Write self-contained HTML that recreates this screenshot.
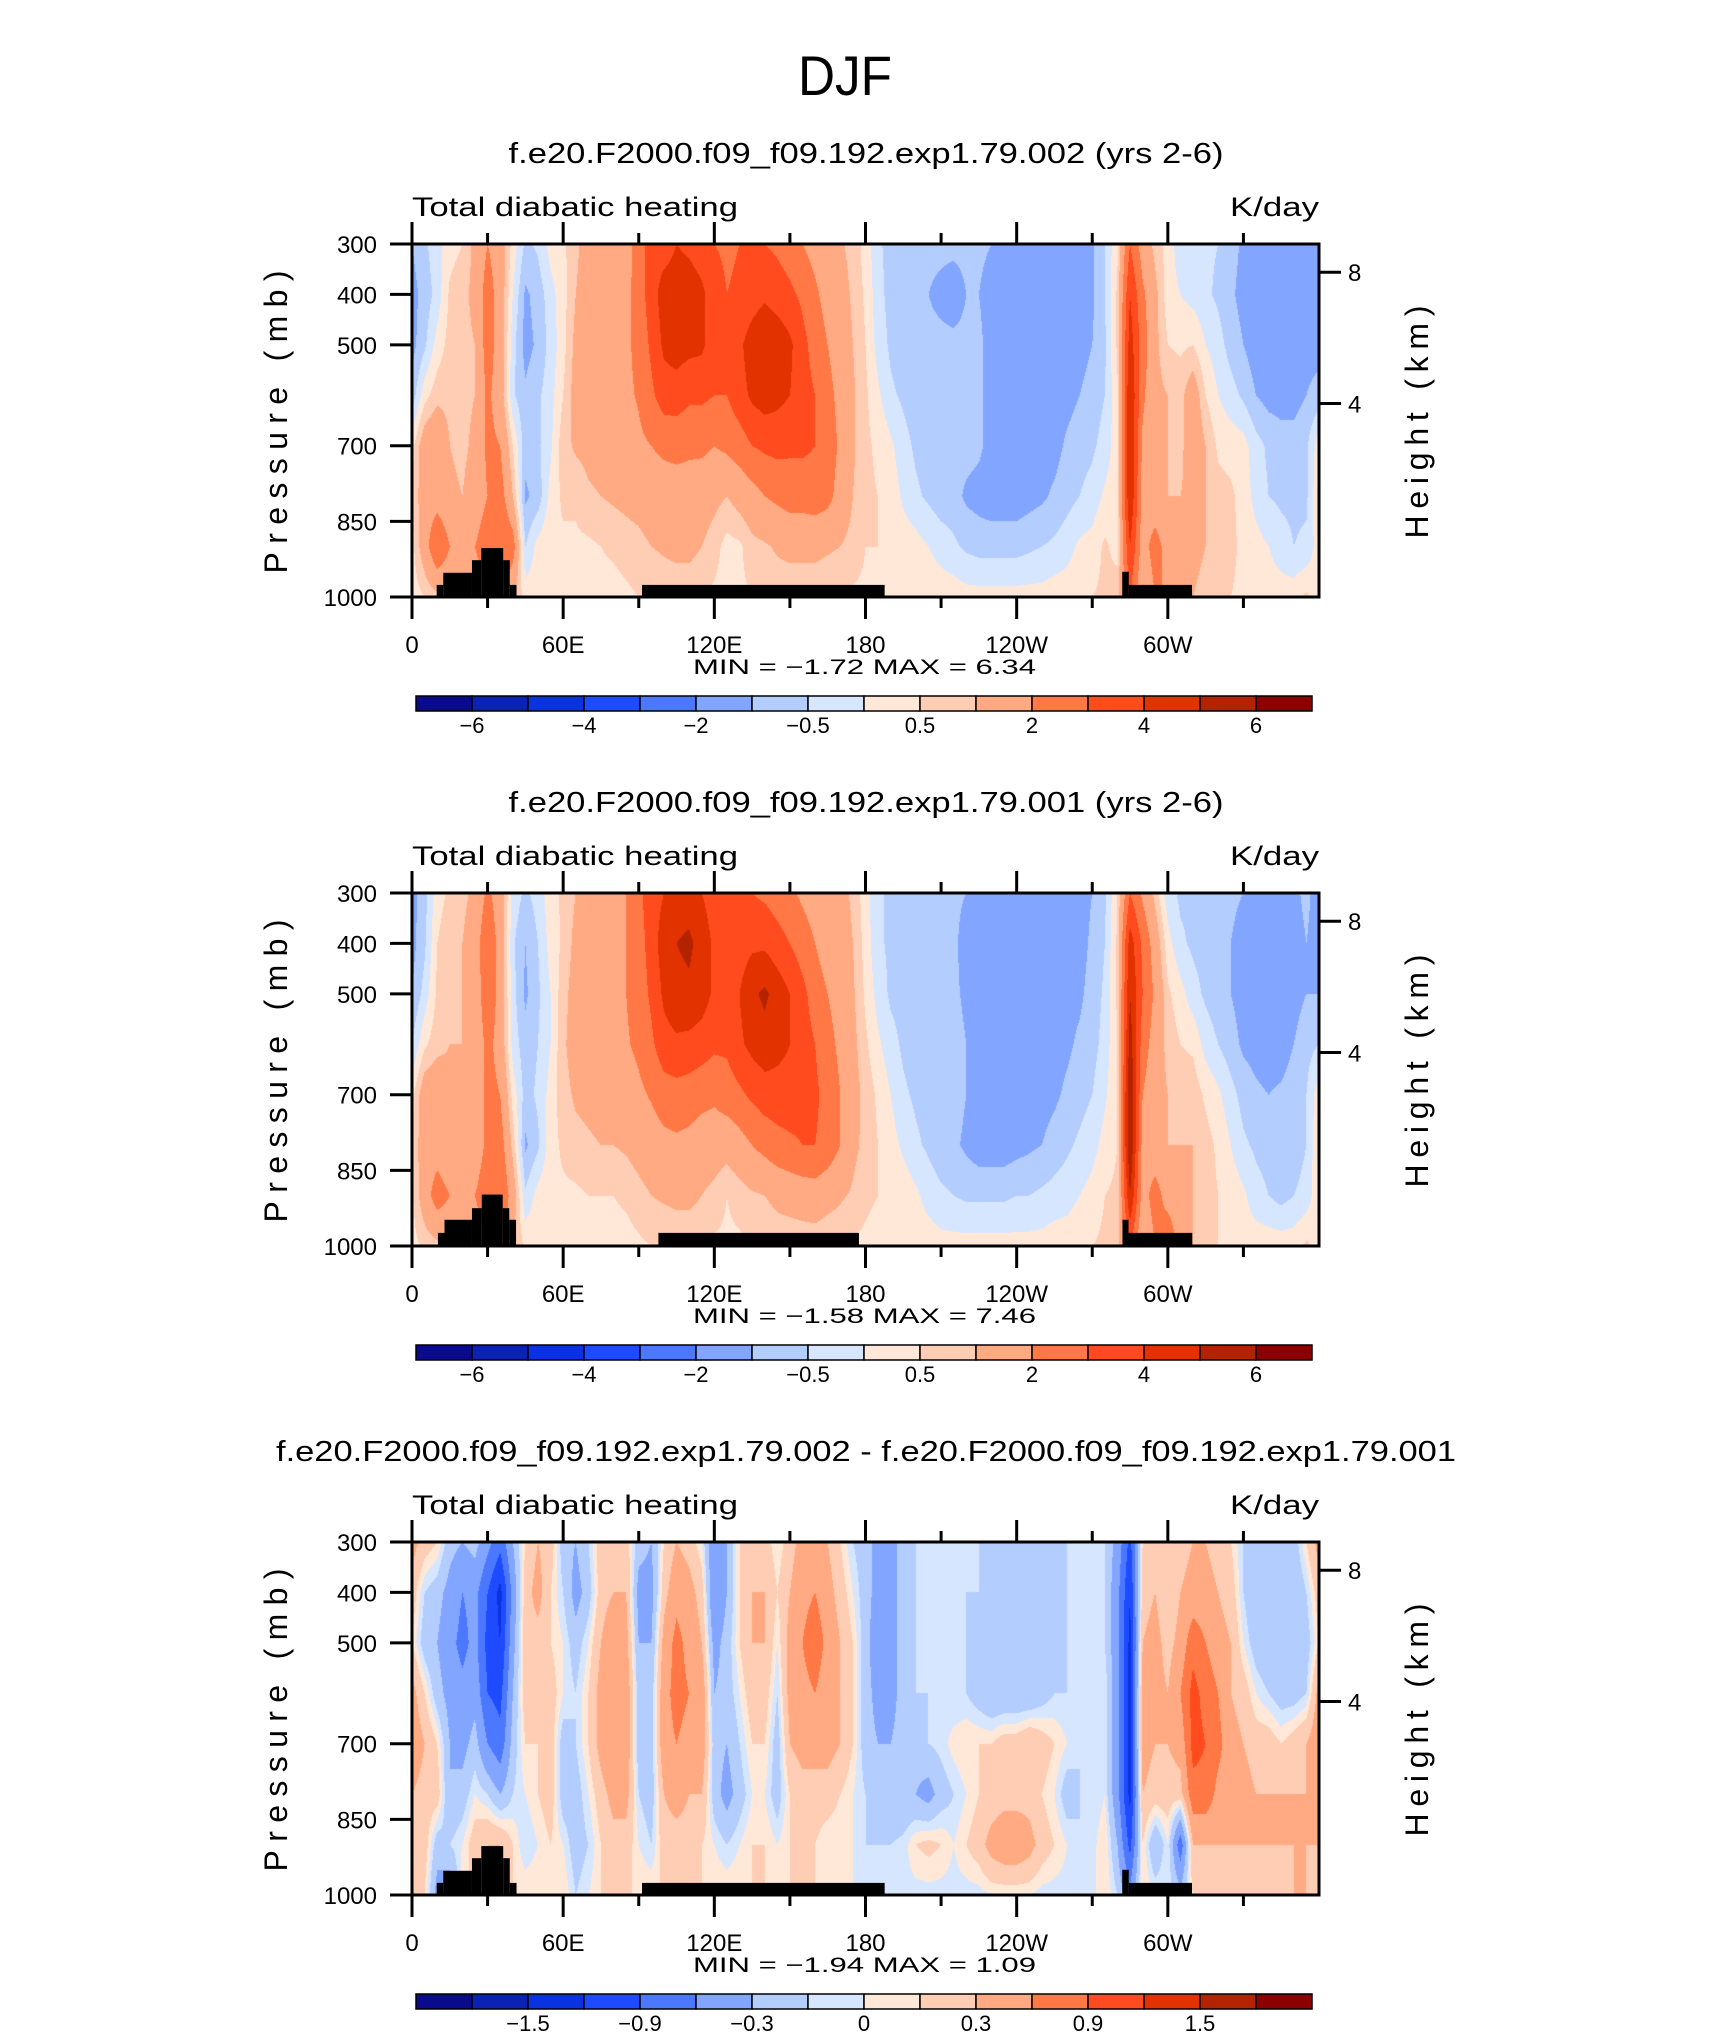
<!DOCTYPE html>
<html><head><meta charset="utf-8"><title>DJF Total diabatic heating</title>
<style>
html,body{margin:0;padding:0;background:#fff;}
#root{position:relative;width:1710px;height:2038px;overflow:hidden;background:#fff;}
canvas{position:absolute;}
svg{position:absolute;left:0;top:0;}
text{font-family:"Liberation Sans",sans-serif;fill:#000;}
</style></head>
<body>
<div id="root">
<canvas id="c0" width="907" height="353"></canvas>
<canvas id="c1" width="907" height="353"></canvas>
<canvas id="c2" width="907" height="353"></canvas>
<svg id="ov" width="1710" height="2038" xmlns="http://www.w3.org/2000/svg">
<text x="845" y="95" font-size="56" text-anchor="middle" textLength="94" lengthAdjust="spacingAndGlyphs">DJF</text>
</svg>
</div>
<script>
const lons=[0,5,10,15,20,25,30,35,40,45,50,55,60,65,70,75,80,85,90,95,100,105,110,115,120,125,130,135,140,145,150,155,160,165,170,175,180,185,190,195,200,205,210,215,220,225,230,235,240,245,250,255,260,265,270,275,280,285,290,295,300,305,310,315,320,325,330,335,340,345,350,355];
const pressures=[300,400,500,600,700,800,900,1000];
// each entry: values at pressures 300..1000 for one longitude
const heat002=[
[-1,-1.2,-1.2,-0.8,0.3,0.5,0.3,0.2],[-0.6,-0.8,-0.6,0.3,1.5,1.5,1.5,0.5],[-0.2,-0.3,0.2,0.8,1.8,1.5,3,0.8],[0.3,0.6,0.7,0.8,1,1.2,2,1],
[0.5,0.8,0.8,0.8,0.8,1,1.5,1],[1.2,1.2,1,1,1.2,1.5,2,1.5],[2,2.5,2.5,2.2,2.2,2,2.5,2],[1.5,1.5,1.5,1.5,2,2.5,3,2.5],
[0.3,0,-0.3,-0.4,0.5,1,2.5,1],[-0.6,-1.1,-1.2,-0.9,-0.8,-1.1,-0.5,0.3],[-0.4,-0.8,-0.9,-0.6,-0.6,-0.8,0.2,0.3],[0.2,-0.2,-0.3,-0.2,-0.1,0.2,0.4,0.3],
[0.4,0.3,0.3,0.5,0.8,0.6,0.4,0.3],[0.8,1,1.2,1.3,1.1,0.6,0.4,0.3],[1.5,1.5,1.5,1.4,1.2,0.9,0.4,0.3],[1.5,1.6,1.6,1.5,1.3,1,0.5,0.3],
[1.5,1.6,1.7,1.6,1.4,1.1,0.6,0.3],[1.5,1.7,1.8,1.8,1.5,1.2,0.7,0.4],[2.5,2.5,2.3,2.1,1.8,1.3,0.8,0.5],[3.5,3.5,3.2,2.8,2,1.5,1,0.5],
[3.5,4.5,4.2,3.5,2.2,1.5,1.1,0.6],[4,4.5,4.5,3.5,2.3,1.5,1.2,0.6],[3.8,4.5,4.3,3.2,2.2,1.5,1.2,0.6],[3.5,4.2,4.2,3.2,2.2,1.4,1,0.5],
[3,3.5,3.5,3,2,1.2,0.7,0.4],[2.8,3,3.2,3,2.2,1,0.3,0.3],[3,3.2,3.8,3.6,2.5,1.3,0.4,0.4],[3,3.5,4.5,4.2,3,1.6,0.8,0.5],
[3,3.8,5,4.5,3.2,2,0.9,0.5],[2.8,3.5,4.7,4.3,3.3,2.2,1.1,0.6],[2.5,3.2,4.2,4,3.2,2.4,1.2,0.6],[2,2.8,3.3,3.4,3.2,2.4,1.2,0.6],
[1.6,2.2,2.6,3,3,2.5,1.2,0.6],[1.2,1.6,2,2.3,2.6,2.3,1.1,0.5],[1.1,1.3,1.5,1.7,1.8,1.6,1,0.5],[0.8,0.9,1,1.1,1.1,1,0.8,0.4],
[0.3,0.4,0.5,0.6,0.6,0.6,0.5,0.4],[-0.4,-0.3,-0.2,0.1,0.4,0.5,0.5,0.3],[-0.7,-0.7,-0.6,-0.4,0.1,0.3,0.4,0.3],[-0.8,-0.8,-0.8,-0.6,-0.3,-0.1,0.3,0.3],
[-0.8,-0.9,-0.9,-0.8,-0.6,-0.4,0.2,0.3],[-0.9,-1,-0.9,-0.8,-0.8,-0.6,0,0.3],[-0.9,-1.1,-0.9,-0.8,-0.8,-0.8,-0.2,0.3],[-0.9,-1.2,-0.9,-0.8,-0.8,-0.8,-0.4,0.3],
[-0.9,-1,-0.9,-0.8,-0.8,-1.1,-0.6,0.2],[-0.9,-1,-0.9,-0.9,-0.9,-1.2,-0.7,0.2],[-1,-1.2,-1.2,-1.2,-1.2,-1.3,-0.7,0.2],[-1.1,-1.3,-1.3,-1.3,-1.3,-1.3,-0.7,0.2],
[-1.2,-1.3,-1.3,-1.3,-1.3,-1.3,-0.7,0.2],[-1.2,-1.3,-1.3,-1.3,-1.3,-1.2,-0.6,0.2],[-1.2,-1.3,-1.3,-1.3,-1.3,-1.1,-0.5,0.2],[-1.2,-1.3,-1.3,-1.3,-1.2,-0.9,-0.4,0.3],
[-1.2,-1.3,-1.3,-1.2,-0.9,-0.7,-0.2,0.3],[-1.2,-1.2,-1.2,-1,-0.7,-0.5,0.1,0.4],[-1.1,-1.1,-1,-0.8,-0.6,-0.3,0.2,0.5],[-0.5,-0.5,-0.6,-0.5,-0.3,0.1,0.6,0.6],
[0.4,0.6,0.6,0.4,0.3,0.3,0.3,0.8],[3,4,4.5,5,5,5,4,3],[1.5,2.2,2.5,2.2,1.8,1.5,1.5,1],[0.8,1.2,1.2,1.2,1.2,1.2,2.5,2],
[0.3,0.2,0.5,1,1,1,1.5,2],[-0.3,0,0.4,0.8,0.8,1,1.5,1.5],[-0.4,-0.2,0.5,1.5,1.6,1.2,1.2,1],[-0.4,-0.4,0,0.5,1,1,1,0.8],
[-0.5,-0.6,-0.3,0,0.4,0.7,0.8,0.5],[-0.8,-0.9,-0.7,-0.3,0.3,0.6,0.6,0.5],[-1.1,-1.2,-1,-0.6,0.2,0.3,0.4,0.4],[-1.2,-1.3,-1.3,-1,-0.3,-0.2,0.2,0.3],
[-1.2,-1.3,-1.3,-1.2,-0.6,-0.5,0,0.3],[-1.2,-1.3,-1.3,-1.2,-0.8,-0.6,-0.3,0.3],[-1.2,-1.3,-1.3,-1.2,-0.8,-0.6,-0.5,0.3],[-1.1,-1.3,-1.2,-1,-0.6,-0.6,-0.4,0.6]];
const heat001=[
[-1.2,-1.2,-1,-0.5,0.3,0.5,0.4,0.3],[-0.7,-0.6,-0.3,0.4,1.5,1.5,1.5,0.6],[0.3,0.5,0.6,0.8,1.6,1.5,2.5,0.8],[0.6,0.8,0.9,1,1.2,1.2,2,1],
[0.8,1,1,1,1,1.2,1.8,1.2],[1.2,1.5,1.3,1.2,1.3,1.5,2,1.5],[2.2,2.8,2.8,2.3,2.3,2.2,2.5,2],[1.5,1.6,1.6,1.6,2,2.5,3,2.5],
[-0.2,-0.4,-0.3,-0.2,0.3,0.8,1.5,1],[-0.6,-1,-1.1,-0.8,-0.7,-1.1,-0.4,0.4],[-0.3,-0.5,-0.6,-0.5,-0.4,-0.6,0.2,0.4],[0.3,0.2,0,0,0.2,0.3,0.4,0.4],
[0.6,0.6,0.8,0.9,0.8,0.6,0.4,0.3],[1,1.2,1.3,1.3,1.1,0.8,0.4,0.3],[1.3,1.5,1.6,1.5,1.2,0.9,0.5,0.3],[1.5,1.7,1.8,1.6,1.3,1,0.5,0.3],
[1.6,1.8,1.9,1.7,1.4,1,0.5,0.3],[2,2,2,1.9,1.5,1.1,0.6,0.3],[2.8,2.5,2.4,2.2,1.8,1.3,0.8,0.4],[3.5,3.5,3.2,2.8,2.1,1.5,1,0.5],
[4,4.5,4.2,3.6,2.5,1.7,1.1,0.5],[4.5,5,4.7,3.8,2.6,1.8,1.2,0.5],[4.5,5.2,4.8,3.7,2.5,1.7,1.2,0.5],[4,4.6,4.5,3.5,2.3,1.5,1,0.5],
[3.5,3.8,3.8,3.2,2.2,1.4,0.8,0.4],[3,3.2,3.5,3.2,2.5,1.3,0.5,0.4],[3,3.5,4,3.8,2.8,1.6,0.7,0.4],[3,3.8,4.8,4.3,3.2,2,0.9,0.5],
[2.8,3.8,5.2,4.6,3.5,2.3,1,0.5],[2.5,3.4,4.6,4.3,3.6,2.6,1.2,0.6],[2.2,3,4,4,3.6,2.8,1.3,0.6],[1.8,2.5,3.3,3.5,3.4,3,1.4,0.6],
[1.5,2,2.5,3,3.2,3,1.5,0.6],[1.2,1.5,2,2.3,2.6,2.6,1.3,0.5],[1.2,1.4,1.6,1.8,2,2,1.1,0.5],[0.9,1,1.1,1.2,1.3,1.2,0.9,0.4],
[0.2,0.3,0.4,0.6,0.8,0.8,0.6,0.4],[-0.4,-0.4,-0.2,0.1,0.4,0.5,0.5,0.3],[-0.6,-0.6,-0.6,-0.3,0,0.2,0.4,0.3],[-0.7,-0.7,-0.7,-0.6,-0.4,-0.1,0.3,0.3],
[-0.7,-0.8,-0.8,-0.8,-0.6,-0.4,0.1,0.3],[-0.8,-0.8,-0.8,-0.8,-0.7,-0.6,-0.2,0.3],[-0.8,-0.9,-0.9,-0.8,-0.8,-0.8,-0.4,0.2],[-0.9,-0.9,-0.9,-0.8,-0.8,-0.9,-0.5,0.2],
[-1,-1.2,-1.1,-1,-1,-1.1,-0.6,0.2],[-1.1,-1.3,-1.3,-1.3,-1.3,-1.3,-0.6,0.2],[-1.2,-1.3,-1.3,-1.3,-1.3,-1.3,-0.6,0.2],[-1.3,-1.4,-1.4,-1.4,-1.4,-1.3,-0.6,0.2],
[-1.3,-1.4,-1.4,-1.4,-1.4,-1.2,-0.5,0.2],[-1.3,-1.4,-1.4,-1.4,-1.3,-1.1,-0.5,0.2],[-1.3,-1.4,-1.4,-1.3,-1.2,-1,-0.4,0.2],[-1.3,-1.4,-1.3,-1.2,-1.1,-0.8,-0.3,0.3],
[-1.3,-1.3,-1.2,-1.1,-0.9,-0.6,-0.2,0.3],[-1.2,-1.2,-1.1,-0.9,-0.7,-0.4,0,0.4],[-1,-0.9,-0.8,-0.7,-0.5,-0.2,0.2,0.5],[-0.6,-0.5,-0.4,-0.3,-0.1,0.2,0.5,0.6],
[0.5,0.6,0.6,0.5,0.5,0.5,0.6,0.8],[3,4.5,5,5.5,6,6,5,3],[1.8,2.8,3,2.5,2,1.6,1.5,1],[0.8,1.5,1.8,1.5,1.3,1.2,2.5,2],
[-0.3,0.2,0.6,0.8,1,1,1.5,3],[-0.6,-0.4,0.2,0.5,0.8,1,1.2,1.5],[-0.6,-0.6,-0.3,0.4,0.8,1,1,1],[-0.7,-0.7,-0.6,-0.2,0.4,0.7,0.7,0.8],
[-0.8,-0.9,-0.8,-0.5,0.1,0.4,0.5,0.5],[-0.9,-1,-1,-0.8,-0.3,0,0.3,0.4],[-1,-1.2,-1.2,-1.1,-0.7,-0.4,0.1,0.3],[-1.1,-1.3,-1.3,-1.2,-0.9,-0.6,-0.3,0.3],
[-1.2,-1.3,-1.3,-1.3,-1,-0.7,-0.5,0.3],[-1.2,-1.3,-1.3,-1.3,-0.9,-0.8,-0.7,0.3],[-1.1,-1.2,-1.2,-1,-0.7,-0.8,-0.5,0.3],[-0.9,-1,-1,-0.7,-0.5,-0.5,-0.3,0.6]];
const heatDiff=[
[0.4,0.2,0.1,0.4,0.5,0.3,0.3,0.2],[0.2,-0.1,-0.2,0.1,0.3,0.2,0.2,0.1],[0.1,-0.2,-0.3,-0.2,0.1,0.2,-0.2,-0.4],[-0.2,-0.4,-0.5,-0.4,-0.3,-0.3,-0.1,-0.5],
[-0.3,-0.6,-0.7,-0.5,-0.4,-0.2,0,0.1],[-0.2,-0.5,-0.5,-0.4,-0.2,0,0.2,0.1],[-0.5,-0.9,-1,-0.9,-0.6,-0.1,0.3,0.3],[-0.8,-1.3,-1.2,-1,-0.8,-0.3,0.3,0.3],
[-0.3,-0.5,-0.4,-0.3,-0.2,-0.1,0.1,0.1],[0.1,0.2,0.2,0.2,0.1,0,-0.1,0.1],[0.3,0.4,0.2,0.1,0.1,0.1,0,0.1],[0.2,0.1,0.1,0.2,0.2,0.2,0.1,0.1],
[-0.2,-0.1,0,0,-0.2,-0.2,0,0.1],[-0.3,-0.4,-0.2,-0.1,-0.1,-0.2,-0.2,-0.1],[-0.1,-0.2,0,0.1,0.1,0,-0.1,0],[0.2,0.2,0.3,0.4,0.4,0.2,0.1,0.1],
[0.1,0.3,0.5,0.6,0.6,0.4,0.2,0.1],[0.2,0.3,0.4,0.5,0.5,0.4,0.2,0.1],[-0.2,-0.4,-0.3,-0.2,-0.2,-0.1,0,0.1],[-0.3,-0.4,-0.3,-0.2,-0.2,-0.2,-0.1,0.1],
[0.1,0.2,0.4,0.5,0.5,0.3,0.2,0.1],[0.3,0.5,0.7,0.7,0.6,0.4,0.2,0.1],[0.2,0.4,0.5,0.6,0.5,0.3,0.2,0.1],[0,0.2,0.3,0.5,0.5,0.3,0.1,0.1],
[-0.5,-0.6,-0.4,-0.3,-0.2,-0.2,0,0.1],[-0.3,-0.3,-0.2,-0.2,-0.3,-0.4,-0.1,0.1],[0.1,0.1,0.1,0,-0.1,-0.2,0,0.1],[0.2,0.3,0.3,0.2,0.1,0,0.1,0.1],
[0.2,0.3,0.3,0.2,0.1,0,0.1,0.1],[0,0.1,0,-0.1,-0.2,-0.2,0,0.1],[0.2,0.3,0.4,0.4,0.3,0.1,0.1,0.1],[0.4,0.5,0.6,0.5,0.4,0.2,0.1,0.1],
[0.4,0.6,0.8,0.6,0.4,0.2,0.1,0.1],[0.3,0.4,0.5,0.4,0.4,0.2,0,0.1],[0.1,0.2,0.3,0.3,0.3,0.1,0,0],[-0.1,0,0.1,0.1,0.1,0,0,0],
[-0.2,-0.2,-0.2,-0.2,-0.2,-0.1,-0.1,0],[-0.4,-0.4,-0.5,-0.4,-0.3,-0.3,-0.1,-0.05],[-0.4,-0.4,-0.4,-0.4,-0.3,-0.3,-0.1,-0.05],[-0.2,-0.2,-0.2,-0.2,-0.2,-0.3,-0.05,-0.05],
[-0.1,-0.1,-0.1,-0.1,-0.2,-0.3,0.1,-0.05],[-0.1,-0.1,-0.1,-0.1,-0.1,-0.4,0.15,-0.05],[-0.1,-0.1,-0.1,-0.1,-0.05,-0.2,0.1,-0.05],[-0.1,-0.1,-0.1,-0.1,0.05,-0.1,0,-0.05],
[-0.1,-0.1,-0.1,-0.1,0.1,0,0.1,-0.05],[-0.1,-0.1,-0.2,-0.2,0.1,0.1,0.2,-0.05],[-0.1,-0.2,-0.3,-0.3,0.1,0.15,0.4,0],[-0.1,-0.2,-0.3,-0.3,0.2,0.2,0.5,0],
[-0.1,-0.3,-0.3,-0.3,0.2,0.2,0.5,0],[-0.1,-0.3,-0.3,-0.3,0.3,0.2,0.4,0],[-0.1,-0.3,-0.3,-0.2,0.2,0.1,0.2,-0.05],[-0.1,-0.2,-0.2,-0.1,0.1,0,0.1,-0.05],
[-0.1,-0.1,-0.1,-0.1,0,-0.2,0,-0.05],[-0.1,-0.1,-0.1,-0.1,-0.1,-0.1,-0.1,-0.05],[-0.1,-0.1,-0.1,-0.1,-0.1,-0.1,-0.05,-0.05],[-0.1,-0.1,-0.1,0,0,0,0.1,0.1],
[-0.4,-0.5,-0.5,-0.5,-0.5,-0.5,-0.3,-0.1],[-1,-1.2,-1.3,-1.3,-1.3,-1.3,-1,-0.5],[0.1,0.2,0.3,0.4,0.4,0.3,0.1,0.1],[0.2,0.3,0.4,0.4,0.3,0.2,-0.3,0],
[0.1,0.1,0.2,0.3,0.3,0.2,0,0],[0.2,0.3,0.4,0.6,0.4,0.2,-0.8,-0.2],[0.3,0.4,0.8,1,1,0.8,0.3,0.1],[0.3,0.4,0.6,0.8,0.9,0.8,0.3,0.1],
[0.2,0.3,0.4,0.6,0.7,0.5,0.3,0.1],[0.1,0.2,0.3,0.3,0.4,0.4,0.3,0.1],[-0.1,-0.1,0,0.2,0.3,0.4,0.3,0.1],[-0.2,-0.3,-0.2,0,0.2,0.3,0.3,0.1],
[-0.2,-0.3,-0.3,-0.1,0.2,0.3,0.3,0.1],[-0.2,-0.3,-0.3,-0.2,0.1,0.3,0.3,0.2],[-0.2,-0.3,-0.3,-0.2,0.2,0.3,0.3,0.3],[0.1,-0.1,-0.2,-0.1,0.3,0.3,0.3,0.3]];
const levelsAbs=[-6,-5,-4,-3,-2,-1,-0.5,0,0.5,1,2,3,4,5,6];
const levelsDiff=[-1.8,-1.5,-1.2,-0.9,-0.6,-0.3,-0.1,0,0.1,0.3,0.6,0.9,1.2,1.5,1.8];
const labelsAbs=["−6","−4","−2","−0.5","0.5","2","4","6"];
const labelIdxAbs=[1,3,5,7,9,11,13,15];
const labelsDiff=["−1.5","−0.9","−0.3","0","0.3","0.9","1.5"];
const labelIdxDiff=[2,4,6,8,10,12,14];
const palette=["#0a0a8c","#0a23b4","#0a32e1","#1e4bff","#4b78ff","#82a5ff","#b4cdff","#d7e6ff","#ffe8d7","#ffcdb4","#ffaa82","#ff7846","#ff4b1e","#e13200","#b42300","#8c0000"];
const topoA=[[9.8,12.4,976],[12.4,23.8,952],[23.8,27.5,927],[27.5,36.2,903],[36.2,38.8,927],[38.8,41.5,976],[91.3,187.6,976],[281.9,284.5,950],[284.5,309.6,976]];
const topoB=[[10.3,12.9,974],[12.9,23.8,948],[23.8,27.7,925],[27.7,36,898],[36,38.6,925],[38.6,41.3,948],[97.8,177.4,974],[282,284.4,948],[284.4,309.7,974]];
const xTickLons=[0,60,120,180,240,300];
const xTickLabels=["0","60E","120E","180","120W","60W"];
const pTicks=[300,400,500,700,850,1000];
const heightKm=[8,4];
const titles=["f.e20.F2000.f09_f09.192.exp1.79.002 (yrs 2-6)","f.e20.F2000.f09_f09.192.exp1.79.001 (yrs 2-6)","f.e20.F2000.f09_f09.192.exp1.79.002 - f.e20.F2000.f09_f09.192.exp1.79.001"];
const titleLens=[715,715,1180];
const minVals=["−1.72","−1.58","−1.94"];
const maxVals=["6.34","7.46","1.09"];

const PX=412,PW=907,PH=353;
const tops=[244,893,1542];
const fields=[heat002,heat001,heatDiff];
const levelSets=[levelsAbs,levelsAbs,levelsDiff];
const topos=[topoA,topoB,topoA];
const NS="http://www.w3.org/2000/svg";
const ov=document.getElementById('ov');
function xS(lon){return PX+lon/360*PW;}
function yS(p,top){return top+(p-300)/700*PH;}
function zToP(km){return 1013.25*Math.pow(1-2.25577e-5*km*1000,5.2559);}
function hex(c){return [parseInt(c.substr(1,2),16),parseInt(c.substr(3,2),16),parseInt(c.substr(5,2),16)];}
const rgb=palette.map(hex);
function mk(tag,attrs,parent){const e=document.createElementNS(NS,tag);for(const k in attrs)e.setAttribute(k,attrs[k]);(parent||ov).appendChild(e);return e;}
function sample(field,lon,p){
  const n=lons.length;let fi=lon/5;let i=Math.floor(fi);let f=fi-i;i=((i%n)+n)%n;const j=(i+1)%n;
  let k=0;while(k<pressures.length-2&&p>pressures[k+1])k++;
  let g=(p-pressures[k])/(pressures[k+1]-pressures[k]);g=Math.max(0,Math.min(1,g));
  const a=field[i][k]*(1-g)+field[i][k+1]*g;const b=field[j][k]*(1-g)+field[j][k+1]*g;
  return a*(1-f)+b*f;
}
fields.forEach((field,pi)=>{
  const top=tops[pi];const lv=levelSets[pi];
  const cv=document.getElementById('c'+pi);cv.style.left=PX+'px';cv.style.top=top+'px';
  const ctx=cv.getContext('2d');const img=ctx.createImageData(PW,PH);
  for(let py=0;py<PH;py++){const p=300+(py+0.5)/PH*700;
    for(let px=0;px<PW;px++){const lon=(px+0.5)/PW*360;const v=sample(field,lon,p);
      let c=0;while(c<lv.length&&v>=lv[c]-1e-6)c++;const col=rgb[c];const o=(py*PW+px)*4;
      img.data[o]=col[0];img.data[o+1]=col[1];img.data[o+2]=col[2];img.data[o+3]=255;}}
  ctx.putImageData(img,0,0);
  const g=mk('g',{});
  
  
  topos[pi].forEach(t=>{const r=mk('rect',{x:xS(t[0]),y:yS(t[2],top),width:xS(t[1])-xS(t[0]),height:yS(1000,top)-yS(t[2],top),fill:'#000'},g);
    
    });
  const fr=mk('rect',{x:PX,y:top,width:PW,height:PH,fill:'none',stroke:'#000','stroke-width':3},g);
  
  
  const t1=mk('text',{x:866,y:top-81,'font-size':29,'text-anchor':'middle',textLength:titleLens[pi],lengthAdjust:'spacingAndGlyphs'},g);t1.textContent=titles[pi];
  
  
  const t2=mk('text',{x:412,y:top-28,'font-size':27,textLength:326,lengthAdjust:'spacingAndGlyphs'},g);t2.textContent='Total diabatic heating';
  
  
  const t3=mk('text',{x:1319,y:top-28,'font-size':27,'text-anchor':'end',textLength:89,lengthAdjust:'spacingAndGlyphs'},g);t3.textContent='K/day';
  
  
  for(let lon=0;lon<360;lon+=30){const major=lon%60===0;const L=major?22:11;const x=xS(lon);
    mk('line',{x1:x,x2:x,y1:top,y2:top-L,stroke:'#000','stroke-width':3},g);
    mk('line',{x1:x,x2:x,y1:top+PH,y2:top+PH+L,stroke:'#000','stroke-width':3},g);}
  xTickLons.forEach((lon,i)=>{const t=mk('text',{x:xS(lon),y:top+PH+56,'font-size':24,'text-anchor':'middle'},g);t.textContent=xTickLabels[i];
    
    });
  pTicks.forEach(p=>{const y=yS(p,top);mk('line',{x1:PX,x2:PX-22,y1:y,y2:y,stroke:'#000','stroke-width':3},g);
    const t=mk('text',{x:377,y:y+9,'font-size':24,'text-anchor':'end'},g);t.textContent=String(p);
    
    });
  heightKm.forEach(z=>{const y=yS(zToP(z),top);mk('line',{x1:PX+PW,x2:PX+PW+22,y1:y,y2:y,stroke:'#000','stroke-width':3},g);
    const t=mk('text',{x:1348,y:y+9,'font-size':24},g);t.textContent=String(z);
    
    });
  const ya=mk('text',{x:0,y:0,'font-size':32,'text-anchor':'middle',textLength:303,lengthAdjust:'spacing',transform:'translate(287,'+(top+178)+') rotate(-90)'},g);ya.textContent='Pressure (mb)';
  
  
  const ha=mk('text',{x:0,y:0,'font-size':32,'text-anchor':'middle',textLength:233,lengthAdjust:'spacing',transform:'translate(1428,'+(top+178)+') rotate(-90)'},g);ha.textContent='Height (km)';
  
  
  const mm=mk('text',{x:693,y:top+PH+77,'font-size':21,textLength:343,lengthAdjust:'spacingAndGlyphs','xml:space':'preserve'},g);
  mm.textContent='MIN =   '+minVals[pi]+'   MAX =     '+maxVals[pi];
  
  
  const cbY=top+452,cbX=416,bw=56;
  palette.forEach((c,i)=>{const r=mk('rect',{x:cbX+i*bw,y:cbY,width:bw,height:15,fill:c,stroke:'#000','stroke-width':1.5},g);
    
    });
  const labs=pi<2?labelsAbs:labelsDiff;const idx=pi<2?labelIdxAbs:labelIdxDiff;
  labs.forEach((l,i)=>{const t=mk('text',{x:cbX+idx[i]*bw,y:cbY+37,'font-size':22,'text-anchor':'middle'},g);t.textContent=l;
    
    });
});
</script>
</body></html>
